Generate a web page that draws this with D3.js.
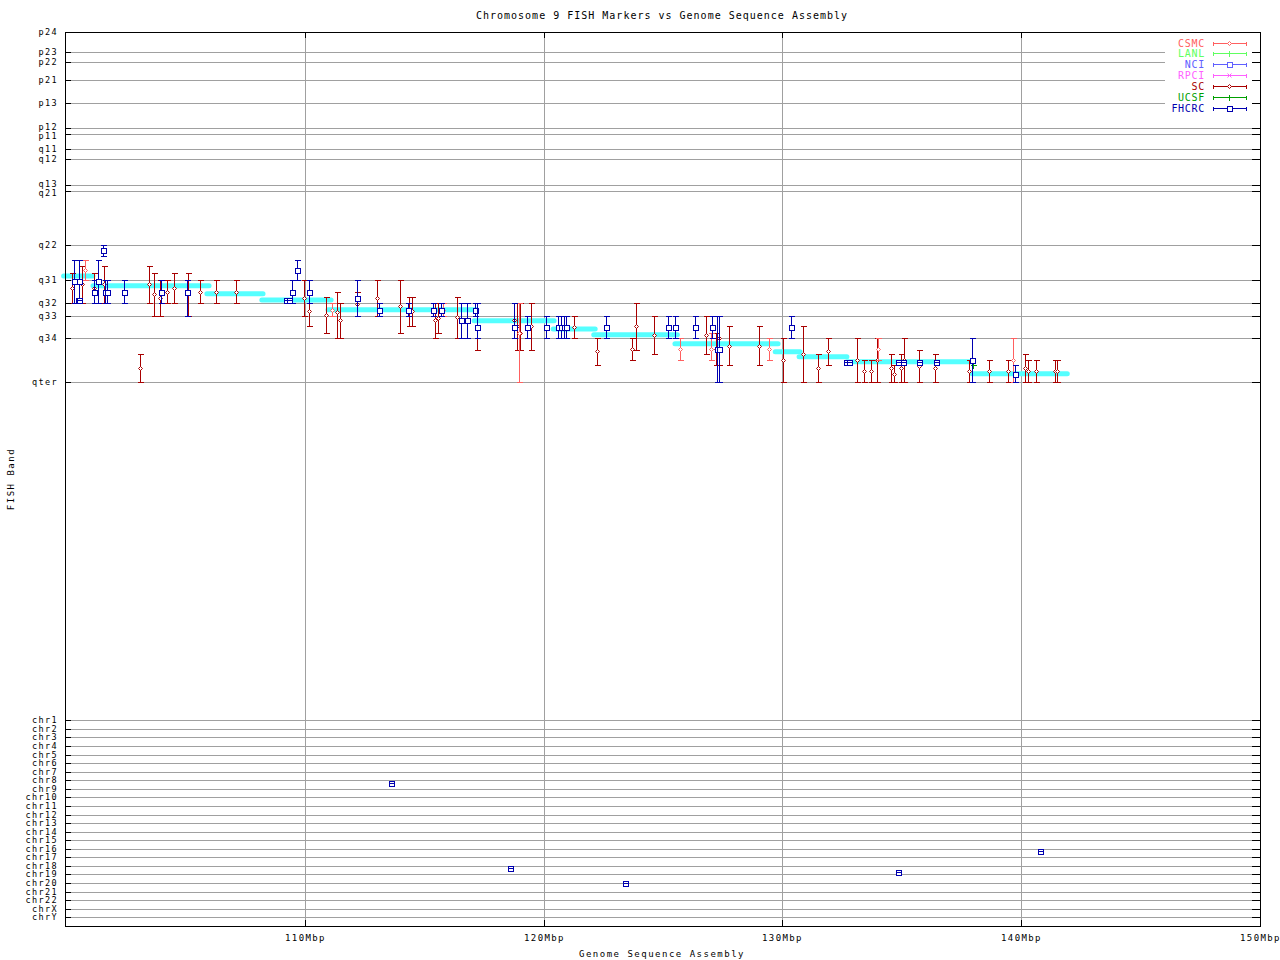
<!DOCTYPE html>
<html><head><meta charset="utf-8">
<script src="https://cdn.jsdelivr.net/npm/d3@7"></script>
<style>
body{margin:0;background:#fff;}
svg{display:block;}
text{font-family:"DejaVu Sans Mono",monospace;}
</style></head>
<body>
<svg id="c" width="1280" height="960"></svg>
<script>
// ---------- data ----------
const title = "Chromosome 9 FISH Markers vs Genome Sequence Assembly";
const xLabel = "Genome Sequence Assembly";
const yLabel = "FISH Band";
const xTicks = [110, 120, 130, 140, 150];
const xTickLabels = ["110Mbp", "120Mbp", "130Mbp", "140Mbp", "150Mbp"];

// cytogenetic band positions (0 = pter, 100 = qter)
const bandLabels = ["p24","p23","p22","p21","p13","p12","p11","q11","q12","q13","q21","q22","q31","q32","q33","q34","qter"];
const bandPos = [0,5.71,8.57,13.71,20.29,27.43,29.14,33.43,36.29,43.71,45.43,60.86,70.77,77.43,81.14,87.43,100];

const chrLabels = ["chr1","chr2","chr3","chr4","chr5","chr6","chr7","chr8","chr9","chr10","chr11","chr12","chr13","chr14","chr15","chr16","chr17","chr18","chr19","chr20","chr21","chr22","chrX","chrY"];

const labs = ["CSMC","LANL","NCI","RPCI","SC","UCSF","FHCRC"];
const labColors = ["#ff6060","#60ff60","#6060ff","#ff60ff","#a80000","#00a000","#0000b0"];
const labMarkers = ["diamond","tick","square","cross","diamond","tick","square"];

// sequence assembly contigs: start Mbp, end Mbp, band position
const asmStart = [99.9,101.13,105.9,108.2,110.97,117.09,120.4,122.1,125.5,129.7,130.7,132.7,137.95];
const asmEnd   = [101.13,105.99,108.25,111.1,117.2,120.44,122.16,125.6,129.82,130.74,132.7,137.95,141.93];
const asmBand  = [69.63,72.4,74.69,76.49,79.26,82.4,84.77,86.4,88.97,91.26,92.69,94.11,97.54];

// markers: [Mbp, band centre, band low, band high]
const csmcPts = [
 [100.81,68.0,65.14,70.77],[111.13,79.43,77.43,81.14],[115.80,79.43,77.43,81.14],
 [118.99,86.0,77.43,100],[125.73,90.57,87.43,93.71],[127.03,90.57,86.0,93.71],
 [129.42,90.57,87.43,93.71],[134.02,90.57,87.43,93.71],[139.64,93.71,87.43,100]
];
const lanlPts = [];
const nciPts = [];
const rpciPts = [];
const scPts = [
 [100.24,73.14,68.63,77.43],[100.66,72.0,66.86,77.43],[101.19,73.14,68.63,77.43],[101.60,72.0,66.86,77.43],
 [103.10,96.0,92.0,100],[103.49,72.0,66.86,77.43],[103.70,74.86,68.63,81.14],[103.95,76.0,70.77,81.14],
 [104.24,74.29,70.77,77.43],[104.54,73.14,68.63,77.43],[105.12,74.86,68.63,81.14],[105.63,74.29,70.77,77.43],
 [106.30,74.29,70.77,77.43],[107.13,74.29,70.77,77.43],[109.95,76.0,70.77,81.14],[110.17,79.71,74.77,84.0],
 [110.90,80.86,75.71,86.0],[111.36,80.0,74.29,87.43],[111.49,82.29,77.43,87.43],[112.20,77.71,74.29,81.14],
 [113.04,76.0,70.77,81.14],[114.00,78.29,70.77,86.0],[114.38,79.71,75.71,84.0],[114.50,79.71,75.71,84.0],
 [115.47,82.29,77.43,87.43],[115.59,81.63,77.43,86.0],[116.39,81.43,75.71,87.43],[117.23,84.29,77.43,90.86],
 [118.74,82.29,77.43,87.43],[118.90,84.0,77.43,90.86],[119.03,86.0,77.43,90.86],[119.49,84.0,77.43,90.86],
 [121.29,84.29,81.14,87.43],[122.22,91.14,87.43,95.14],[123.72,90.57,87.43,93.71],[123.89,84.0,77.43,90.86],
 [124.64,86.57,81.14,92.0],[126.78,86.57,81.14,92.0],[127.24,90.57,86.0,95.14],[127.36,87.43,81.14,95.14],
 [127.78,89.71,84.0,95.14],[129.00,89.71,84.0,95.14],[130.04,93.71,87.43,100],[130.88,92.0,84.0,100],
 [131.51,96.0,92.0,100],[131.93,91.14,87.43,95.14],[133.13,93.71,87.43,100],[133.40,96.86,93.71,100],
 [133.73,96.86,93.71,100],[133.98,93.71,87.43,100],[134.53,96.0,92.0,100],[134.69,97.71,95.14,100],
 [134.95,96.0,92.0,100],[135.11,93.71,87.43,100],[135.70,95.43,90.86,100],[136.41,96.0,92.0,100],
 [137.83,96.86,93.71,100],[138.67,96.86,93.71,100],[139.43,96.86,93.71,100],[140.14,96.0,92.0,100],
 [140.27,96.86,93.71,100],[140.60,96.86,93.71,100],[141.40,96.86,93.71,100],[141.52,96.86,93.71,100]
];
const ucsfPts = [[137.99,95.14,95.14,95.14]];
const fhcrcPts = [
 [100.35,71.14,65.14,77.43],[100.56,71.14,65.14,77.43],[100.49,76.49,76.49,76.49],[100.54,76.49,76.49,76.49],
 [101.19,74.29,70.77,77.43],[101.35,71.14,65.14,77.43],[101.53,62.29,60.86,64.0],[101.63,74.29,70.77,77.43],
 [101.70,74.29,70.77,77.43],[102.44,74.29,70.77,77.43],[103.99,74.29,70.77,77.43],[105.08,74.29,70.77,81.14],
 [109.21,76.49,76.49,76.49],[109.32,76.49,76.49,76.49],[109.48,74.29,70.77,77.43],[109.69,68.0,65.14,70.77],
 [110.17,74.29,70.77,77.43],[112.20,76.0,70.77,81.14],[113.12,79.43,77.43,81.14],[114.34,79.43,77.43,81.14],
 [115.38,79.43,77.43,81.14],[115.72,79.43,77.43,81.14],[116.56,82.29,77.43,87.43],[116.81,82.29,77.43,87.43],
 [117.14,79.43,77.43,81.14],[117.23,84.29,77.43,87.43],[118.78,84.29,77.43,87.43],[119.32,84.29,81.14,87.43],
 [120.12,84.29,81.14,87.43],[120.62,84.29,81.14,87.43],[120.73,84.29,81.14,87.43],[120.86,84.29,81.14,87.43],
 [120.93,84.29,81.14,87.43],[122.63,84.29,81.14,87.43],[125.23,84.29,81.14,87.43],[125.52,84.29,81.14,87.43],
 [126.36,84.29,81.14,87.43],[127.07,84.29,81.14,87.43],[127.28,90.57,81.14,100],[127.36,90.57,81.14,100],
 [130.34,84.29,81.14,87.43],[132.65,94.29,94.29,94.29],[132.80,94.29,94.29,94.29],[134.83,94.29,94.29,94.29],
 [135.03,94.29,94.29,94.29],[135.70,94.29,94.29,94.29],[136.45,94.29,94.29,94.29],[137.96,93.71,87.43,100],
 [139.76,97.71,95.14,100]
];
// FHCRC clones mapping to other chromosomes: [Mbp, chromosome index position]
const offChrPts = [[113.63,8.29],[118.61,18.28],[123.39,20.03],[134.85,18.75],[140.80,16.30]];

// ---------- layout ----------
const L = 65, R = 1260, T = 32, B = 926;
const svg = d3.select("#c");
const x = d3.scaleLinear().domain([100, 150]).range([66, 1260]);
const yb = d3.scaleLinear().domain([0, 100]).range([32.3, 382.3]);
const yc = d3.scaleLinear().domain([1, 24]).range([720.3, 917.3]);
const px = v => Math.round(x(v)) + 0.5;
const pb = v => Math.round(yb(v)) + 0.5;
const pc = v => Math.round(yc(v)) + 0.5;

const g = svg.append("g").attr("shape-rendering", "crispEdges");
const grid = "#a0a0a0";

// horizontal grid
bandPos.forEach(v => g.append("line").attr("x1", L).attr("x2", R).attr("y1", pb(v)).attr("y2", pb(v)).attr("stroke", grid));
chrLabels.forEach((c, i) => g.append("line").attr("x1", L).attr("x2", R).attr("y1", pc(i + 1)).attr("y2", pc(i + 1)).attr("stroke", grid));
// vertical grid
xTicks.slice(0, 4).forEach(t => g.append("line").attr("x1", px(t)).attr("x2", px(t)).attr("y1", T).attr("y2", B).attr("stroke", grid));

// assembly contigs
const asm = svg.append("g");
asmStart.forEach((s, i) => {
  asm.append("line").attr("x1", x(s)).attr("x2", x(asmEnd[i]))
    .attr("y1", yb(asmBand[i])).attr("y2", yb(asmBand[i]))
    .attr("stroke", "#55ffff").attr("stroke-width", 5).attr("stroke-linecap", "round");
});

// marker drawing
function marker(sel, type, cx, cy, col) {
  if (type === "square") {
    sel.append("rect").attr("x", cx - 2.5).attr("y", cy - 2.5).attr("width", 5).attr("height", 5)
      .attr("fill", "#fff").attr("stroke", col);
  } else if (type === "diamond") {
    sel.append("path").attr("d", `M${cx},${cy-2}L${cx+2},${cy}L${cx},${cy+2}L${cx-2},${cy}Z`)
      .attr("fill", "#fff").attr("stroke", col).attr("shape-rendering", "auto");
  } else if (type === "cross") {
    sel.append("path").attr("d", `M${cx-2},${cy-2}L${cx+2},${cy+2}M${cx-2},${cy+2}L${cx+2},${cy-2}`)
      .attr("stroke", col).attr("shape-rendering", "auto");
  } else if (type === "tick") {
    sel.append("line").attr("x1", cx).attr("x2", cx).attr("y1", cy - 3).attr("y2", cy + 3).attr("stroke", col);
  }
}

const pointSets = [csmcPts, lanlPts, nciPts, rpciPts, scPts, ucsfPts, fhcrcPts];
const drawOrder = [4, 0, 5, 1, 3, 2, 6];
const mk = svg.append("g").attr("shape-rendering", "crispEdges");
drawOrder.forEach(li => {
  const col = labColors[li];
  pointSets[li].forEach(d => {
    const cx = px(d[0]), cy = pb(d[1]), y1 = pb(d[2]), y2 = pb(d[3]);
    mk.append("line").attr("x1", cx).attr("x2", cx).attr("y1", y1).attr("y2", y2).attr("stroke", col);
    marker(mk, labMarkers[li], cx, cy, col);
    mk.append("line").attr("x1", cx - 3).attr("x2", cx + 3).attr("y1", y1).attr("y2", y1).attr("stroke", col);
    mk.append("line").attr("x1", cx - 3).attr("x2", cx + 3).attr("y1", y2).attr("y2", y2).attr("stroke", col);
  });
});
offChrPts.forEach(d => {
  const cx = px(d[0]), cy = Math.round(yc(d[1])) + 0.5, col = labColors[6];
  marker(mk, "square", cx, cy, col);
  mk.append("line").attr("x1", cx - 2).attr("x2", cx + 2).attr("y1", cy).attr("y2", cy).attr("stroke", col);
});

// legend
const lg = svg.append("g").attr("shape-rendering", "crispEdges");
lg.append("rect").attr("x", 1165).attr("y", 35).attr("width", 87).attr("height", 80).attr("fill", "#fff");
labs.forEach((lab, i) => {
  const ly = Math.round(42.5 + i * 10.9) + 0.5, col = labColors[i];
  lg.append("text").attr("x", 1205).attr("y", ly).attr("dy", "0.35em").attr("text-anchor", "end")
    .attr("fill", col).attr("font-size", 10).attr("letter-spacing", 0.7).text(lab);
  lg.append("line").attr("x1", 1213.5).attr("x2", 1246.5).attr("y1", ly).attr("y2", ly).attr("stroke", col);
  lg.append("line").attr("x1", 1213.5).attr("x2", 1213.5).attr("y1", ly - 2).attr("y2", ly + 2).attr("stroke", col);
  lg.append("line").attr("x1", 1246.5).attr("x2", 1246.5).attr("y1", ly - 2).attr("y2", ly + 2).attr("stroke", col);
  marker(lg, labMarkers[i], 1229.5, ly, col);
});

// axes frame
const ax = svg.append("g").attr("shape-rendering", "crispEdges");
ax.append("rect").attr("x", L + 0.5).attr("y", T + 0.5).attr("width", R - L).attr("height", B - T)
  .attr("fill", "none").attr("stroke", "#000");

// y ticks + labels (tightly spaced band pairs nudged apart slightly)
const yTickFont = 8.5, yTickLS = 1.4;
const labelNudge = {p12: -1.6, p11: 1.6, q13: -1.6, q21: 1.6};
bandPos.forEach((v, i) => {
  const yy = pb(v);
  ax.append("line").attr("x1", L).attr("x2", L + 6).attr("y1", yy).attr("y2", yy).attr("stroke", "#000");
  ax.append("line").attr("x1", R - 8).attr("x2", R).attr("y1", yy).attr("y2", yy).attr("stroke", "#000");
  svg.append("text").attr("x", 58).attr("y", yy + (labelNudge[bandLabels[i]] || 0)).attr("dy", "0.35em").attr("text-anchor", "end")
    .attr("font-size", yTickFont).attr("letter-spacing", yTickLS).text(bandLabels[i]);
});
chrLabels.forEach((c, i) => {
  const yy = pc(i + 1);
  ax.append("line").attr("x1", L).attr("x2", L + 6).attr("y1", yy).attr("y2", yy).attr("stroke", "#000");
  ax.append("line").attr("x1", R - 8).attr("x2", R).attr("y1", yy).attr("y2", yy).attr("stroke", "#000");
  svg.append("text").attr("x", 58).attr("y", yy).attr("dy", "0.35em").attr("text-anchor", "end")
    .attr("font-size", yTickFont).attr("letter-spacing", yTickLS).text(c);
});

// x ticks + labels
xTicks.forEach((t, i) => {
  const xx = px(t);
  ax.append("line").attr("x1", xx).attr("x2", xx).attr("y1", B - 6).attr("y2", B).attr("stroke", "#000");
  ax.append("line").attr("x1", xx).attr("x2", xx).attr("y1", T).attr("y2", T + 6).attr("stroke", "#000");
  svg.append("text").attr("x", xx).attr("y", 938).attr("dy", "0.35em").attr("text-anchor", "middle")
    .attr("font-size", 9).attr("letter-spacing", 1.4).text(xTickLabels[i]);
});

// titles
svg.append("text").attr("x", 662).attr("y", 15).attr("dy", "0.35em").attr("text-anchor", "middle")
  .attr("font-size", 10).attr("letter-spacing", 1).text(title);
svg.append("text").attr("x", 662).attr("y", 954).attr("dy", "0.35em").attr("text-anchor", "middle")
  .attr("font-size", 9).attr("letter-spacing", 1.5).text(xLabel);
svg.append("text").attr("transform", "translate(11,479) rotate(-90)").attr("dy", "0.35em").attr("text-anchor", "middle")
  .attr("font-size", 9).attr("letter-spacing", 1.5).text(yLabel);
</script>
</body></html>
